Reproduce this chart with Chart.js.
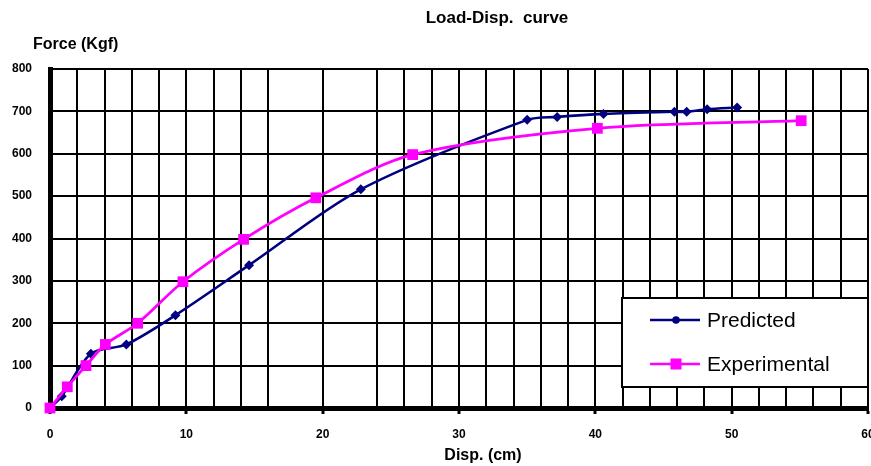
<!DOCTYPE html>
<html><head><meta charset="utf-8">
<script src="https://cdn.jsdelivr.net/npm/chart.js@4/dist/chart.umd.min.js"></script>
<style>html,body{margin:0;padding:0;background:#fff;overflow:hidden;width:871px;height:466px}canvas{display:block}</style>
</head><body>
<canvas id="c" width="900" height="466"></canvas>
<script>
// ---- data ----
const chartTitle = 'Load-Disp.  curve';
const yAxisTitle = 'Force (Kgf)';
const xAxisTitle = 'Disp. (cm)';
const seriesNames = ['Predicted', 'Experimental'];
const predictedX = [0, 0.86, 3.0, 5.6, 9.2, 14.6, 22.8, 35.0, 37.2, 40.6, 45.8, 46.7, 48.2, 50.4];
const predictedY = [0, 28, 128, 150, 219, 337, 516, 680, 687, 694, 699, 699, 705, 709];
const experimentalX = [0, 1.27, 2.64, 4.06, 6.43, 9.75, 14.2, 19.5, 26.6, 40.15, 55.1];
const experimentalY = [0, 50, 100, 150, 200, 298, 398, 496, 598, 660, 678];
const xTickLabels = [0, 10, 20, 30, 40, 50, 60];
const yTickLabels = [0, 100, 200, 300, 400, 500, 600, 700, 800];
const xMissingGridLines = [18, 22];

// ---- styles ----
const FONT = "'Liberation Sans', Arial, sans-serif";
const NAVY = '#000080';
const MAGENTA = '#FF00FF';

const toPts = (xs, ys) => xs.map((x, i) => ({x: x, y: ys[i]}));

const textPlugin = {
  id: 'texts',
  afterDraw(chart) {
    const ctx = chart.ctx;
    ctx.save();
    ctx.fillStyle = '#000';
    ctx.textBaseline = 'middle';
    ctx.font = 'bold 17px ' + FONT;
    ctx.textAlign = 'center';
    ctx.fillText(chartTitle, 497, 18);
    ctx.font = 'bold 16px ' + FONT;
    ctx.textAlign = 'left';
    ctx.fillText(yAxisTitle, 33, 45);
    ctx.textAlign = 'center';
    ctx.fillText(xAxisTitle, 483, 456);

    // legend
    const lx = 622, ly = 298, lw = 246, lh = 89;
    ctx.fillStyle = '#fff';
    ctx.fillRect(lx, ly, lw, lh);
    ctx.lineWidth = 2;
    ctx.strokeStyle = '#000';
    ctx.strokeRect(lx, ly, lw, lh);
    const rows = [
      {name: seriesNames[0], color: NAVY, y: 320, mark: 'circle'},
      {name: seriesNames[1], color: MAGENTA, y: 364, mark: 'square'}
    ];
    rows.forEach(r => {
      ctx.strokeStyle = r.color;
      ctx.lineWidth = 2.5;
      ctx.beginPath();
      ctx.moveTo(650, r.y); ctx.lineTo(700, r.y);
      ctx.stroke();
      ctx.fillStyle = r.color;
      if (r.mark === 'circle') {
        ctx.beginPath(); ctx.arc(676, r.y, 3.8, 0, Math.PI * 2); ctx.fill();
      } else {
        ctx.fillRect(670.5, r.y - 5.5, 11, 11);
      }
      ctx.fillStyle = '#000';
      ctx.font = '21px ' + FONT;
      ctx.textAlign = 'left';
      ctx.textBaseline = 'middle';
      ctx.fillText(r.name, 707, r.y + 1);
    });
    ctx.restore();
  }
};

new Chart(document.getElementById('c'), {
  type: 'scatter',
  data: {
    datasets: [
      {
        label: seriesNames[0],
        data: toPts(predictedX, predictedY),
        showLine: true,
        borderColor: NAVY,
        backgroundColor: NAVY,
        borderWidth: 2.6,
        tension: 0.3,
        pointStyle: 'rectRot',
        pointRadius: 5,
        pointBorderWidth: 0,
        clip: false,
        order: 1
      },
      {
        label: seriesNames[1],
        data: toPts(experimentalX, experimentalY),
        showLine: true,
        borderColor: MAGENTA,
        backgroundColor: MAGENTA,
        borderWidth: 2.8,
        tension: 0.3,
        pointStyle: 'rect',
        pointRadius: 7.6,
        pointBorderWidth: 0,
        clip: false,
        order: 0
      }
    ]
  },
  options: {
    responsive: false,
    animation: false,
    layout: {padding: {top: 69, right: 32, left: 0, bottom: 0}},
    plugins: {legend: {display: false}, tooltip: {enabled: false}, title: {display: false}},
    scales: {
      x: {
        type: 'linear',
        min: xTickLabels[0],
        max: xTickLabels[xTickLabels.length - 1],
        afterFit(s) { s.height = 58; },
        ticks: {
          stepSize: 2,
          autoSkip: false,
          maxRotation: 0,
          padding: 13,
          color: '#000',
          font: {family: FONT, size: 12, weight: 'bold'},
          callback: v => xTickLabels.includes(v) ? String(v) : ''
        },
        grid: {
          color: c => (c.tick && xMissingGridLines.includes(c.tick.value)) ? 'rgba(0,0,0,0)' : '#000',
          lineWidth: 2,
          drawTicks: true,
          tickLength: 6,
          tickWidth: 3,
          tickColor: c => (c.tick && xTickLabels.includes(c.tick.value)) ? '#000' : 'rgba(0,0,0,0)'
        },
        border: {display: true, color: '#000', width: 5}
      },
      y: {
        type: 'linear',
        min: yTickLabels[0],
        max: yTickLabels[yTickLabels.length - 1],
        afterFit(s) { s.width = 50; },
        ticks: {
          stepSize: 100,
          padding: 18,
          color: '#000',
          font: {family: FONT, size: 12, weight: 'bold'},
          callback: v => yTickLabels.includes(v) ? String(v) : ''
        },
        grid: {color: '#000', lineWidth: 2, drawTicks: false},
        border: {display: true, color: '#000', width: 5}
      }
    }
  },
  plugins: [textPlugin]
});
</script>
</body></html>
